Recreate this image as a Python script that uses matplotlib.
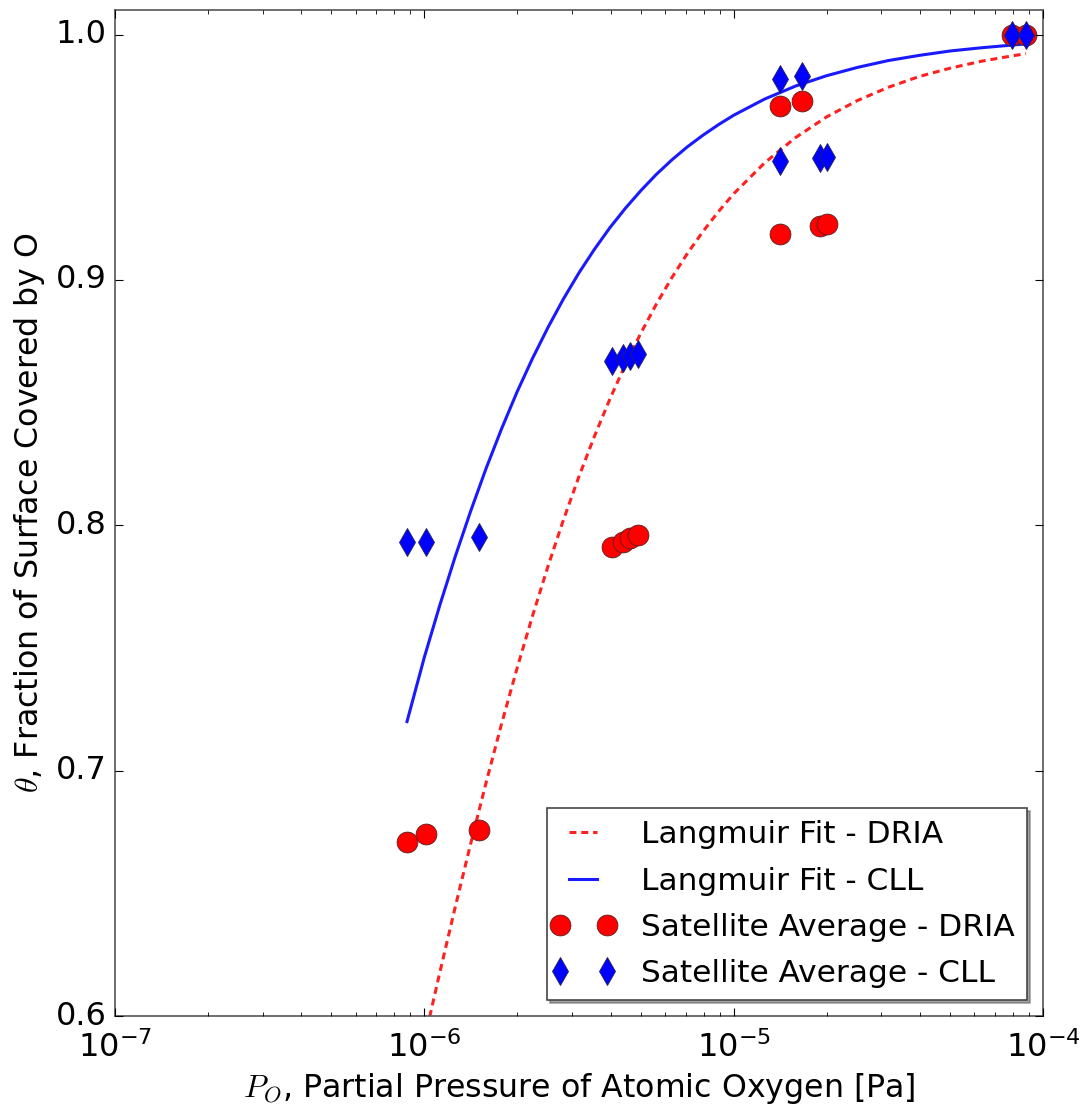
import matplotlib
matplotlib.use("Agg")
import matplotlib.pyplot as plt
from matplotlib.legend_handler import HandlerLine2D

plt.style.use("classic")
plt.rcParams["mathtext.fontset"] = "cm"
plt.rcParams["font.family"] = ["DejaVu Sans"]

# Satellite averages (same pressures for both models)
pressure = [8.79e-7, 1.013e-6, 1.503e-6,
            4.04e-6, 4.38e-6, 4.62e-6, 4.91e-6,
            1.41e-5, 1.66e-5,
            1.41e-5, 1.90e-5, 2.00e-5,
            7.94e-5, 8.81e-5]
theta_dria = [0.6711, 0.6740, 0.6760,
              0.7910, 0.7930, 0.7947, 0.7960,
              0.9707, 0.9728,
              0.9187, 0.9220, 0.9228,
              1.0000, 1.0000]
theta_cll = [0.7931, 0.7931, 0.7951,
             0.8670, 0.8680, 0.8690, 0.8700,
             0.9817, 0.9829,
             0.9484, 0.9496, 0.9500,
             1.0000, 1.0000]

# Langmuir fit curves
fit_pressure = [8.79e-7, 1.000e-6, 1.122e-6, 1.259e-6, 1.413e-6, 1.585e-6,
                1.778e-6, 1.995e-6, 2.239e-6, 2.512e-6, 2.818e-6, 3.162e-6,
                3.548e-6, 3.981e-6, 4.467e-6, 5.012e-6, 5.623e-6, 6.310e-6,
                7.079e-6, 7.943e-6, 8.913e-6, 1.000e-5,
                1.259e-5, 1.585e-5, 1.995e-5, 2.512e-5, 3.162e-5, 3.981e-5,
                5.012e-5, 6.310e-5, 7.943e-5, 8.81e-5]
fit_dria = [0.5586, 0.5902, 0.6177, 0.6445, 0.6704, 0.6953,
            0.7192, 0.7418, 0.7632, 0.7834, 0.8023, 0.8199,
            0.8363, 0.8515, 0.8655, 0.8783, 0.8901, 0.9009,
            0.9107, 0.9196, 0.9277, 0.9351,
            0.9477, 0.9580, 0.9664, 0.9731, 0.9785, 0.9829,
            0.9863, 0.9891, 0.9913, 0.9922]
fit_cll = [0.7200, 0.7462, 0.7674, 0.7873, 0.8059, 0.8233,
           0.8394, 0.8544, 0.8681, 0.8807, 0.8923, 0.9029,
           0.9125, 0.9213, 0.9292, 0.9364, 0.9430, 0.9489,
           0.9542, 0.9589, 0.9632, 0.9671,
           0.9737, 0.9790, 0.9832, 0.9866, 0.9894, 0.9915,
           0.9933, 0.9946, 0.9957, 0.9962]

fig = plt.figure(figsize=(10.8, 11.08), dpi=100, facecolor="white")
ax = fig.add_axes([115 / 1080, 1 - 1016 / 1108, 928 / 1080, 1006 / 1108])

ax.plot(fit_pressure, fit_dria, color="#ff2020", lw=2.2, linestyle=(0, (5, 3.5)),
        label="Langmuir Fit - DRIA")
ax.plot(fit_pressure, fit_cll, color="#1a1aff", lw=2.2, linestyle="-",
        label="Langmuir Fit - CLL")
pts_dria, = ax.plot(pressure, theta_dria, linestyle="none", marker="o", markersize=15,
                    markerfacecolor="red", markeredgecolor="#552222", markeredgewidth=0.6,
                    label="Satellite Average - DRIA")
pts_cll, = ax.plot(pressure, theta_cll, linestyle="none", marker="d", markersize=14.3,
                   markerfacecolor="blue", markeredgecolor="#222255", markeredgewidth=0.6,
                   label="Satellite Average - CLL")

ax.set_xscale("log")
ax.set_xlim(1e-7, 1e-4)
ax.set_ylim(0.6, 1.01)
ax.set_yticks([0.6, 0.7, 0.8, 0.9, 1.0])
ax.set_yticklabels(["0.6", "0.7", "0.8", "0.9", "1.0"])

ax.tick_params(axis="both", which="major", labelsize=23, length=6, width=0.8,
               direction="in", top=True, right=True)
ax.tick_params(axis="x", which="major", pad=11)
ax.tick_params(axis="y", which="major", pad=6)
ax.tick_params(axis="both", which="minor", length=3, width=0.6,
               direction="in", top=True, right=True)
for sp in ax.spines.values():
    sp.set_color("#555555")
    sp.set_linewidth(1.2)

ax.set_xlabel("$P_O$, Partial Pressure of Atomic Oxygen [Pa]", fontsize=22.8, labelpad=5)
ax.set_ylabel(r"$\theta$, Fraction of Surface Covered by O", fontsize=22.8, labelpad=6)

hmap = {pts_dria: HandlerLine2D(numpoints=2, marker_pad=0.0),
        pts_cll: HandlerLine2D(numpoints=2, marker_pad=0.0)}
leg = ax.legend(loc="lower right", numpoints=2, fontsize=22.5, handlelength=1.5,
                shadow=True, fancybox=False, borderpad=0.4, labelspacing=0.55,
                handletextpad=1.1, handler_map=hmap)
leg.get_frame().set_edgecolor("#444444")
leg.get_frame().set_linewidth(1.2)

fig.savefig("out.png", dpi=100, facecolor="white")
